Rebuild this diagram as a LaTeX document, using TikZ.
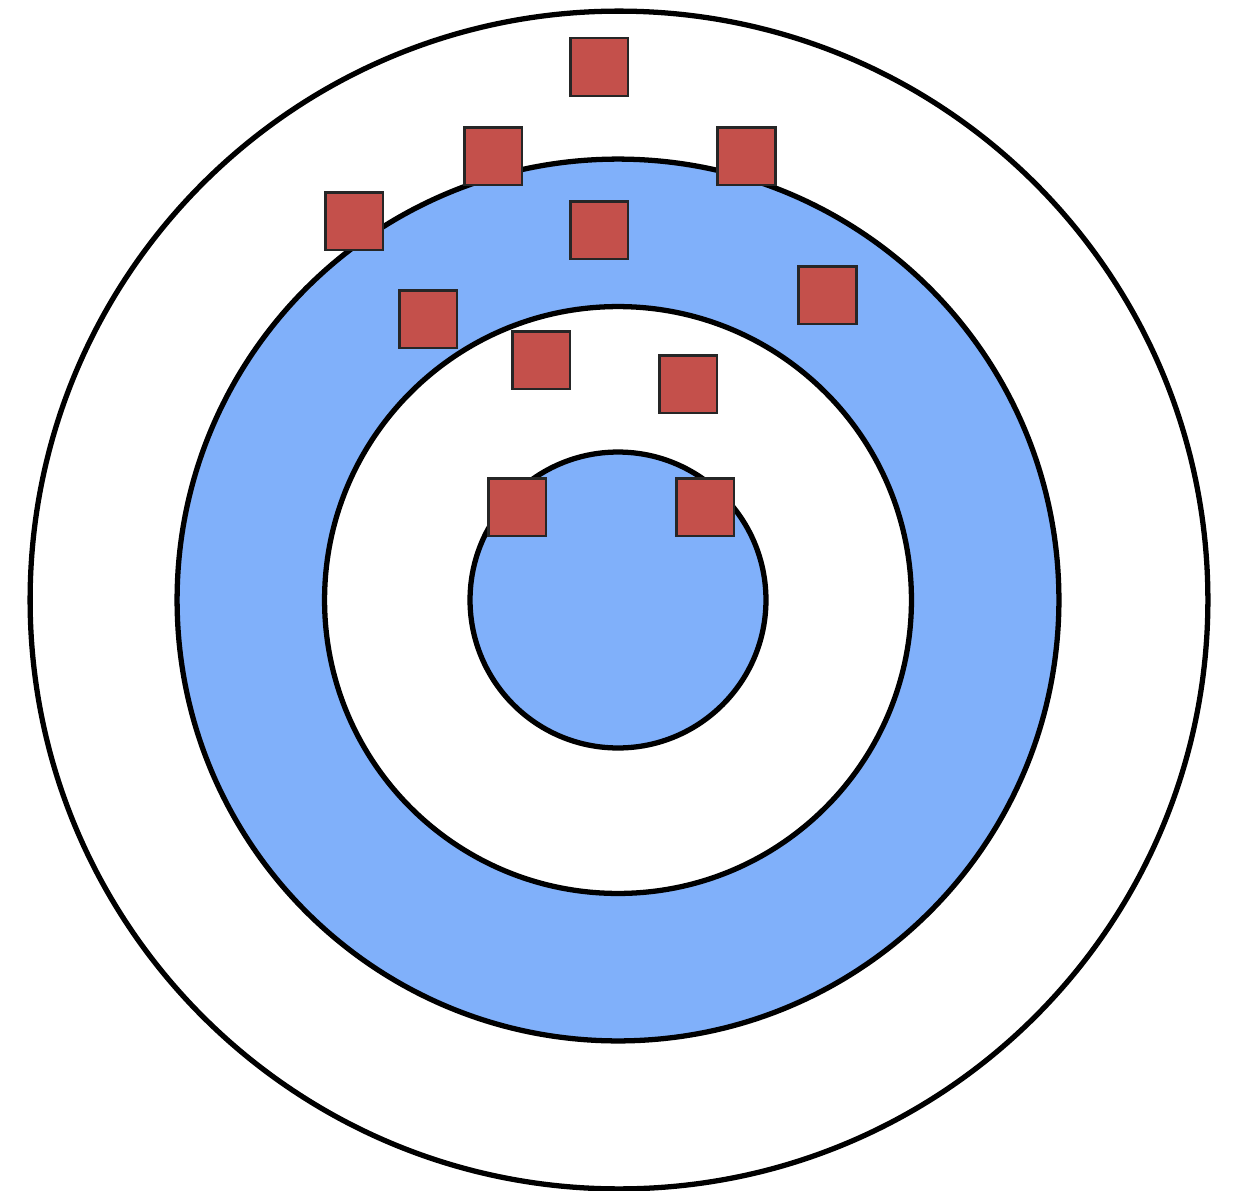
\documentclass[tikz,border=0pt]{standalone}
\definecolor{ringblue}{HTML}{80B0FA}
\definecolor{boxred}{HTML}{C4504B}
\begin{document}
\begin{tikzpicture}[x=0.02cm,y=-0.02cm,
  ring/.style={circle,draw=black,line width=3pt,inner sep=0pt},
  box/.style={rectangle,draw=black!85,fill=boxred,line width=1.7pt,minimum size=1.16cm,inner sep=0pt}]
\useasboundingbox (0,0) rectangle (1233,1190);
\node[ring,fill=white,minimum size=23.56cm] (outer) at (619,600) {};
\node[ring,fill=ringblue,minimum size=17.64cm] (band) at (618,600) {};
\node[ring,fill=white,minimum size=11.74cm] (inner) at (618,600) {};
\node[ring,fill=ringblue,minimum size=5.92cm] (core) at (618,600) {};
\node[box] (s1) at (599,67) {};
\node[box] (s2) at (493,156) {};
\node[box] (s3) at (746,156) {};
\node[box] (s4) at (354,221) {};
\node[box] (s5) at (599,230) {};
\node[box] (s6) at (827,295) {};
\node[box] (s7) at (428,319) {};
\node[box] (s8) at (541,360) {};
\node[box] (s9) at (688,384) {};
\node[box] (s10) at (517,507) {};
\node[box] (s11) at (705,507) {};
\end{tikzpicture}
\end{document}
